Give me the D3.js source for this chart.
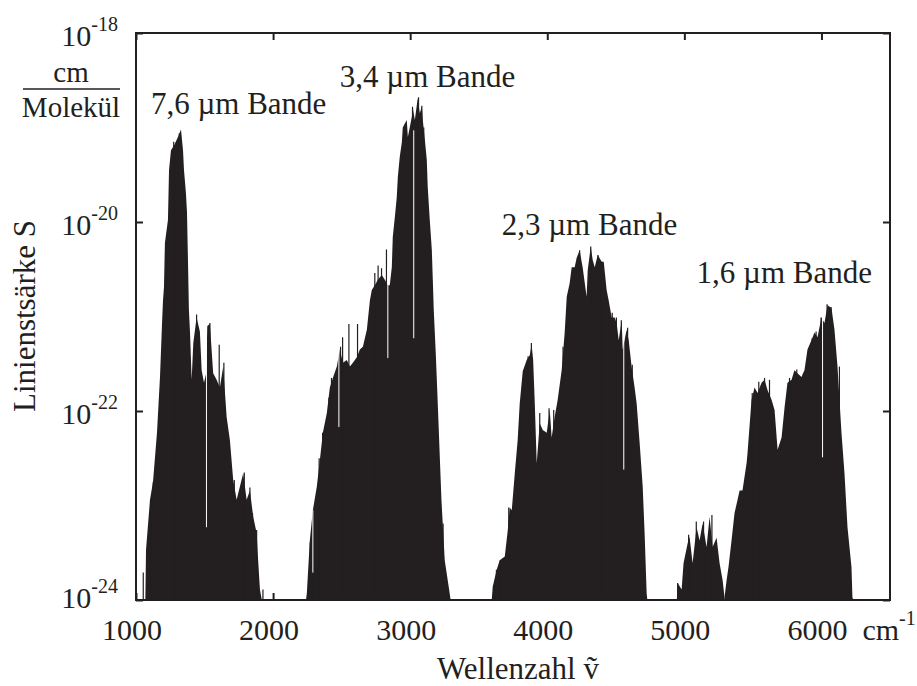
<!DOCTYPE html>
<html>
<head>
<meta charset="utf-8">
<script src="https://cdn.jsdelivr.net/npm/d3@7"></script>
<style>
  body { margin: 0; background: #fff; }
  text { font-family: "Liberation Serif", "DejaVu Serif", "Times New Roman", serif; }
</style>
</head>
<body>
<div id="chart"></div>
<script>

//DATA// wavenumber in cm^-1, lgS = log10 of line strength in cm/Molekül

const band76 = [[1068,-24],[1073,-23.47],[1102,-22.94],[1124,-22.75],[1153,-22.23],[1175,-21.64],[1190,-21.07],
  [1197,-20.83],[1204,-20.69],[1211,-20.22],[1233,-19.98],[1241,-19.45],[1255,-19.24],[1277,-19.19],[1306,-19.10],
  [1328,-19.02],[1343,-19.24],[1350,-19.45],[1364,-19.69],[1372,-19.90],[1379,-20.40],[1386,-20.93],[1394,-21.17],
  [1406,-21.67],[1418,-21.28],[1442,-21.01],[1466,-21.16],[1479,-21.57],[1496,-21.70],[1512,-21.60],[1520,-21.10],
  [1539,-21.08],[1563,-21.60],[1588,-21.67],[1612,-21.75],[1636,-21.53],[1661,-22.06],[1685,-22.31],[1709,-22.73],
  [1734,-22.94],[1782,-22.66],[1807,-22.94],[1831,-22.84],[1855,-23.12],[1880,-23.29],[1891,-23.58],[1904,-23.89],[1918,-24]];

const band34 = [[2240,-24],[2246,-23.93],[2268,-23.37],[2290,-23.05],[2319,-22.80],[2341,-22.52],[2363,-22.23],
  [2392,-22.02],[2414,-21.75],[2436,-21.65],[2465,-21.53],[2487,-21.35],[2509,-21.49],[2538,-21.46],[2560,-21.53],
  [2582,-21.49],[2611,-21.43],[2633,-21.35],[2655,-21.32],[2684,-21.14],[2706,-20.83],[2720,-20.72],[2742,-20.67],
  [2764,-20.61],[2793,-20.56],[2815,-20.61],[2837,-20.67],[2851,-20.67],[2866,-20.48],[2873,-20.16],[2888,-19.95],
  [2902,-19.74],[2910,-19.52],[2924,-19.31],[2939,-19.16],[2946,-19.00],[2975,-18.92],[2983,-19.10],[3012,-18.89],
  [3019,-18.79],[3034,-18.92],[3055,-18.69],[3070,-18.85],[3085,-18.78],[3092,-18.92],[3107,-19.13],[3121,-19.34],
  [3128,-19.63],[3143,-19.98],[3158,-20.30],[3165,-20.61],[3172,-20.93],[3187,-21.40],[3203,-21.99],[3228,-22.94],
  [3252,-23.58],[3284,-23.89],[3295,-24]];

const band23 = [[3595,-24],[3602,-23.86],[3631,-23.68],[3653,-23.58],[3690,-23.54],[3712,-23.26],[3726,-23.02],
  [3741,-23.05],[3763,-22.66],[3784,-22.31],[3799,-21.92],[3821,-21.58],[3850,-21.46],[3872,-21.41],[3886,-21.30],
  [3897,-21.46],[3908,-21.88],[3923,-22.55],[3945,-22.13],[3967,-22.20],[3996,-22.23],[4018,-21.99],[4032,-22.28],
  [4054,-22.06],[4076,-21.88],[4105,-21.57],[4127,-21.17],[4142,-20.79],[4163,-20.65],[4178,-20.48],[4200,-20.48],
  [4214,-20.38],[4236,-20.30],[4258,-20.48],[4287,-20.79],[4295,-20.51],[4317,-20.26],[4331,-20.40],[4346,-20.48],
  [4368,-20.35],[4397,-20.42],[4412,-20.42],[4433,-20.72],[4448,-20.83],[4470,-21.01],[4491,-21.01],[4506,-21.07],
  [4521,-21.25],[4543,-21.04],[4550,-21.35],[4579,-21.14],[4594,-21.25],[4615,-21.53],[4637,-21.75],[4652,-21.92],
  [4674,-22.34],[4696,-22.80],[4710,-23.29],[4725,-23.93],[4730,-24]];

const band19 = [[4945,-24],[4951,-23.82],[4980,-23.89],[4994,-23.61],[5024,-23.40],[5038,-23.33],[5060,-23.61],
  [5089,-23.23],[5111,-23.37],[5133,-23.19],[5162,-23.44],[5184,-23.12],[5206,-23.44],[5235,-23.34],[5257,-23.61],
  [5279,-23.79],[5293,-23.97]];

const band16 = [[5293,-23.97],[5308,-23.79],[5322,-23.65],[5344,-23.37],[5366,-23.08],[5388,-22.94],[5403,-22.84],
  [5424,-22.84],[5454,-22.55],[5461,-22.44],[5490,-21.88],[5512,-21.75],[5534,-21.81],[5563,-21.70],[5585,-21.67],
  [5607,-21.78],[5636,-21.88],[5658,-21.99],[5680,-22.41],[5709,-22.28],[5731,-21.96],[5752,-21.70],[5782,-21.67],
  [5803,-21.57],[5825,-21.60],[5854,-21.64],[5876,-21.57],[5898,-21.35],[5927,-21.25],[5949,-21.17],[5971,-21.22],
  [6000,-21.01],[6022,-21.07],[6044,-20.88],[6073,-20.91],[6095,-21.14],[6117,-21.53],[6146,-22.23],[6168,-22.66],
  [6190,-23.23],[6219,-23.65],[6226,-23.97],[6232,-24]];

// single strong lines that stick out of the envelope
const spikes = [[1053,-23.71],[1107,-22.93],[1126,-22.75],[1275,-19.15],[1292,-19.19],[1316,-19.06],[1442,-20.98],
  [1539,-21.07],[1607,-21.30],[1641,-21.49],[1717,-22.73],[1790,-22.65],[1831,-22.81],[1850,-23.08],[1880,-23.26],
  [1926,-23.89],[2271,-23.39],[2295,-23.05],[2336,-22.50],[2361,-22.23],[2407,-21.86],[2426,-21.65],[2492,-21.32],
  [2507,-21.22],[2553,-21.08],[2616,-21.08],[2742,-20.54],[2766,-20.46],[2791,-20.49],[2827,-20.29],[2961,-18.97],
  [3017,-18.78],[3061,-18.68],[3085,-18.77],[3099,-19.00],[3240,-23.19],[3609,-23.84],[3629,-23.68],[3658,-23.58],
  [3719,-23.02],[3828,-21.57],[3860,-21.42],[3884,-21.28],[3945,-22.02],[4013,-21.97],[4047,-21.99],[4115,-21.32],
  [4236,-20.30],[4317,-20.26],[4370,-20.35],[4394,-20.42],[4474,-20.96],[4504,-21.01],[4540,-21.04],[4586,-21.12],
  [4620,-21.51],[4951,-23.82],[5031,-23.31],[5087,-23.17],[5140,-23.17],[5201,-23.10],[5495,-21.81],[5543,-21.69],
  [5585,-21.65],[5621,-21.67],[5767,-21.65],[5820,-21.56],[5869,-21.60],[5932,-21.23],[5961,-21.16],[5997,-21.01],
  [6041,-20.87],[6070,-20.90],[6131,-21.53]];

// white gaps inside the bands: wavenumber, lgS top, lgS bottom
const gaps = [[1514,-21.17,-23.23],[2290,-23.05,-23.71],[2480,-21.35,-22.17],[2837,-20.48,-21.44],
  [3026,-19.03,-21.23],[4558,-21.12,-22.62],[6008,-20.98,-22.49]];

const xTicks = [1000, 2000, 3000, 4000, 5000, 6000];
const yTicks = [1e-24, 1e-22, 1e-20, 1e-18];
const yTickExp = ["-24", "-22", "-20", "-18"];

const bandNames = ["7,6 µm Bande", "3,4 µm Bande", "2,3 µm Bande", "1,6 µm Bande"];
const bandLabelWn = [1109, 2487, 3668, 5089];
const bandLabelLg = [-18.86, -18.57, -20.14, -20.65];

//CHART//
const width = 917;
const height = 686;
const margin = {top: 33, left: 136, right: 27, bottom: 86};
const ink = "#231f20";
const serif = "'Liberation Serif', 'DejaVu Serif', 'Times New Roman', serif";

const svg = d3.select("#chart")
    .append("svg")
    .attr("width", width)
    .attr("height", height)
    .attr("font-family", serif)
    .style("display", "block");

const xScale = d3.scaleLinear()
    .domain([1000, 6500])
    .range([margin.left, width - margin.right]);

const yScale = d3.scaleLog()
    .domain([1e-24, 1e-18])
    .range([height - margin.bottom, margin.top]);

const S = function(lg) { return Math.pow(10, lg); };

svg.append("defs").append("clipPath").attr("id", "plotclip")
  .append("rect")
    .attr("x", margin.left).attr("y", margin.top)
    .attr("width", width - margin.left - margin.right)
    .attr("height", height - margin.top - margin.bottom);

const plot = svg.append("g").attr("clip-path", "url(#plotclip)");

// bands as filled areas
const area = d3.area()
    .x(function(d) { return xScale(d[0]); })
    .y0(yScale(1e-24))
    .y1(function(d) { return yScale(S(d[1])); });

plot.selectAll("path.band")
    .data([band76, band34, band23, band19, band16])
    .enter().append("path")
      .attr("class", "band")
      .attr("d", area)
      .attr("fill", ink);

plot.selectAll("line.spike")
    .data(spikes)
    .enter().append("line")
      .attr("class", "spike")
      .attr("x1", function(d) { return xScale(d[0]); })
      .attr("x2", function(d) { return xScale(d[0]); })
      .attr("y1", yScale(1e-24))
      .attr("y2", function(d) { return yScale(S(d[1])); })
      .attr("stroke", ink)
      .attr("stroke-width", 1.2);

plot.selectAll("line.gap")
    .data(gaps)
    .enter().append("line")
      .attr("class", "gap")
      .attr("x1", function(d) { return xScale(d[0]); })
      .attr("x2", function(d) { return xScale(d[0]); })
      .attr("y1", function(d) { return yScale(S(d[1])); })
      .attr("y2", function(d) { return yScale(S(d[2])); })
      .attr("stroke", "#fff")
      .attr("stroke-width", 1);

// inward ticks on all four sides
function styleAxis(g) {
  g.select(".domain").remove();
  g.selectAll(".tick line").attr("stroke", ink).attr("stroke-width", 2);
}
svg.append("g").attr("transform", `translate(0,${height - margin.bottom})`)
    .call(d3.axisBottom(xScale).tickValues(xTicks).tickSize(-7).tickFormat(""))
    .call(styleAxis);
svg.append("g").attr("transform", `translate(0,${margin.top})`)
    .call(d3.axisTop(xScale).tickValues(xTicks).tickSize(-7).tickFormat(""))
    .call(styleAxis);
svg.append("g").attr("transform", `translate(${margin.left},0)`)
    .call(d3.axisLeft(yScale).tickValues(yTicks).tickSize(-7).tickFormat(""))
    .call(styleAxis);
svg.append("g").attr("transform", `translate(${width - margin.right},0)`)
    .call(d3.axisRight(yScale).tickValues(yTicks).tickSize(-7).tickFormat(""))
    .call(styleAxis);

// frame
svg.append("rect")
    .attr("x", margin.left).attr("y", margin.top)
    .attr("width", width - margin.left - margin.right)
    .attr("height", height - margin.top - margin.bottom)
    .attr("fill", "none")
    .attr("stroke", ink)
    .attr("stroke-width", 2);

// x tick labels
svg.selectAll("text.xlab")
    .data(xTicks)
    .enter().append("text")
      .attr("class", "xlab")
      .attr("x", function(d) { return xScale(d) - 4; })
      .attr("y", 640)
      .attr("text-anchor", "middle")
      .attr("font-size", 30)
      .attr("fill", ink)
      .text(function(d) { return d; });

const unit = svg.append("text")
    .attr("x", xScale(6000) + 41)
    .attr("y", 640)
    .attr("font-size", 30)
    .attr("fill", ink);
unit.append("tspan").text("cm");
unit.append("tspan").attr("dy", -15).attr("font-size", 20).text("-1");

// y tick labels 10^n (the bottom one sits a bit higher, as in the original)
svg.selectAll("text.ylab")
    .data(yTicks)
    .enter().append("text")
      .attr("class", "ylab")
      .attr("x", margin.left - 18)
      .attr("y", function(d) { return yScale(d) + (d === 1e-24 ? 8 : 13); })
      .attr("text-anchor", "end")
      .attr("font-size", 30)
      .attr("fill", ink)
      .each(function(d, i) {
        const t = d3.select(this);
        t.append("tspan").text("10");
        t.append("tspan").attr("dy", -15).attr("font-size", 20).text(yTickExp[i]);
      });

// unit fraction below 10^-18
svg.append("text")
    .attr("x", 71).attr("y", 82)
    .attr("text-anchor", "middle").attr("font-size", 29).attr("fill", ink)
    .text("cm");
svg.append("line")
    .attr("x1", 23).attr("x2", 120).attr("y1", 89).attr("y2", 89)
    .attr("stroke", ink).attr("stroke-width", 1.5);
svg.append("text")
    .attr("x", 71).attr("y", 117)
    .attr("text-anchor", "middle").attr("font-size", 29).attr("fill", ink)
    .text("Molekül");

// axis titles
svg.append("text")
    .attr("transform", "translate(35,316) rotate(-90)")
    .attr("text-anchor", "middle").attr("font-size", 31).attr("fill", ink)
    .text("Linienstsärke S");

svg.append("text")
    .attr("x", 518).attr("y", 679)
    .attr("text-anchor", "middle").attr("font-size", 31).attr("fill", ink)
    .text("Wellenzahl \u1E7D");

// band labels
svg.selectAll("text.bandlab")
    .data(bandNames)
    .enter().append("text")
      .attr("class", "bandlab")
      .attr("x", function(d, i) { return xScale(bandLabelWn[i]); })
      .attr("y", function(d, i) { return yScale(S(bandLabelLg[i])); })
      .attr("font-size", 31)
      .attr("fill", ink)
      .text(function(d) { return d; });

</script>
</body>
</html>
